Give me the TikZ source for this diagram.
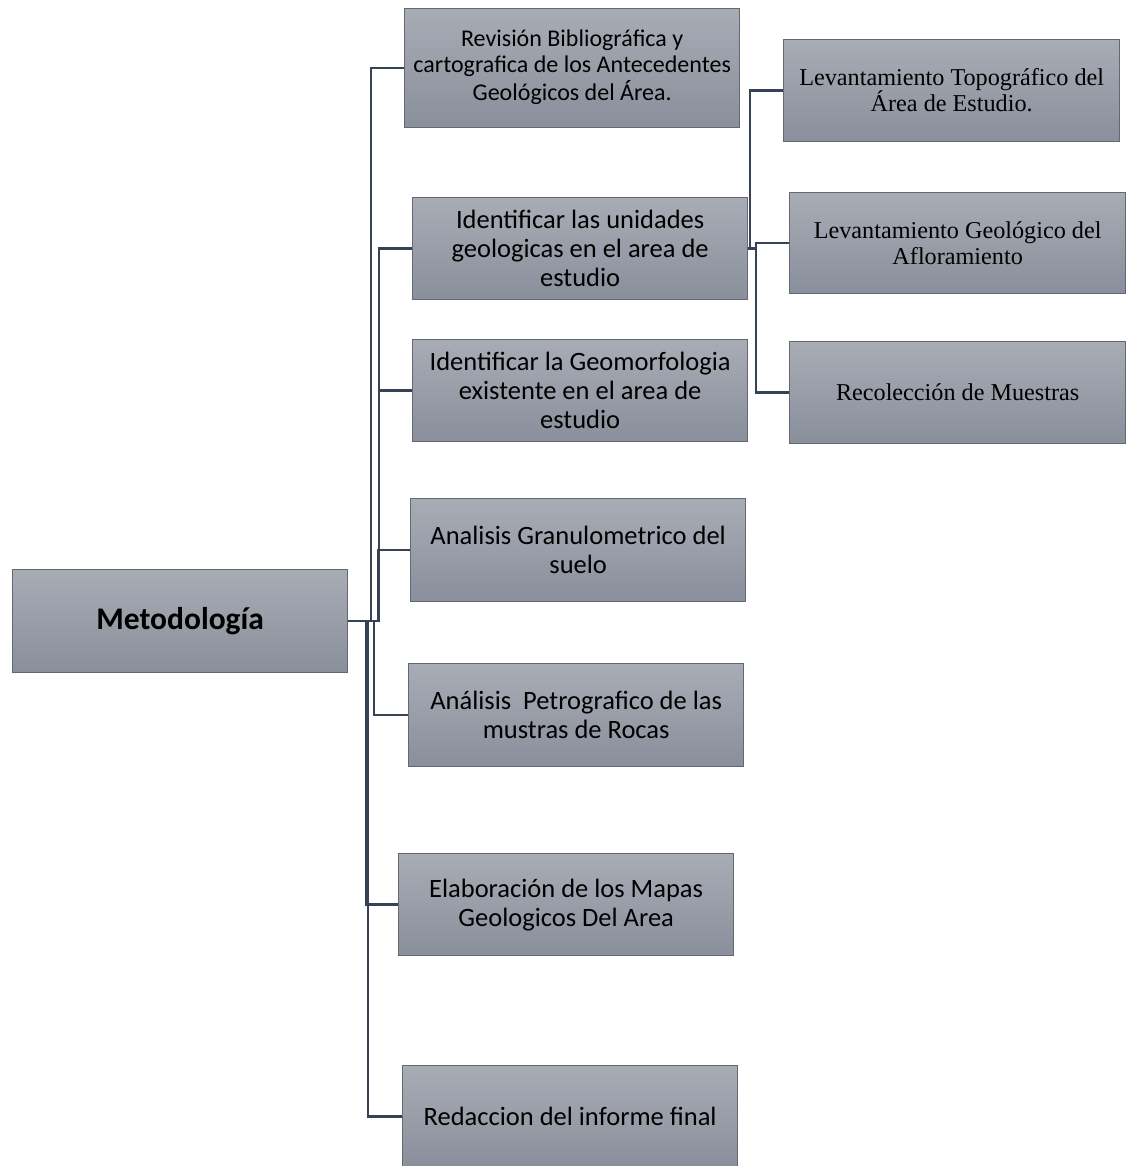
\documentclass[tikz,border=0pt]{standalone}
\usepackage{fontspec}
\setmainfont{Carlito}
\newfontfamily\tnr{Liberation Serif}
\definecolor{boxtop}{RGB}{168,172,181}
\definecolor{boxbot}{RGB}{137,143,155}
\definecolor{boxline}{RGB}{100,105,113}
\definecolor{connc}{RGB}{55,66,86}
\begin{document}
\begin{tikzpicture}[x=1pt,y=-1pt,
  box/.style={draw=boxline, line width=1.3pt, top color=boxtop, bottom color=boxbot,
    anchor=north west, inner sep=0pt, align=center, text=black, minimum width=335pt},
  calb/.style={font=\fontsize{26.5}{29}\selectfont},
  tnrb/.style={font=\tnr\fontsize{24.2}{26}\selectfont},
  conn/.style={draw=connc, line width=2.6pt}]
\useasboundingbox (0,0) rectangle (1128,1166);

\node[box, minimum height=103pt, font=\fontsize{31.5}{36}\selectfont\bfseries] (M) at (12,569) {Metodología};

\node[box, minimum height=119pt, font=\fontsize{24}{26}\selectfont] (B1) at (404,8)
  {\raisebox{8pt}{\begin{tabular}{@{}c@{}}Revisión Bibliográfica y\\cartografica de los Antecedentes\\Geológicos del Área.\end{tabular}}};
\node[box, minimum height=102pt, calb] (B2) at (412,197) {Identificar las unidades\\geologicas en el area de\\estudio};
\node[box, minimum height=102pt, calb] (B3) at (412,339) {Identificar la Geomorfologia\\existente en el area de\\estudio};
\node[box, minimum height=103pt, calb] (B4) at (410,498) {Analisis Granulometrico del\\suelo};
\node[box, minimum height=103pt, calb] (B5) at (408,663) {Análisis\ \ Petrografico de las\\mustras de Rocas};
\node[box, minimum height=102pt, calb] (B6) at (398,853) {Elaboración de los Mapas\\Geologicos Del Area};
\node[box, minimum height=102pt, calb] (B7) at (402,1065) {Redaccion del informe final};

\node[box, minimum width=336pt, minimum height=102pt, tnrb] (S1) at (783,39) {Levantamiento Topográfico del\\Área de Estudio.};
\node[box, minimum width=336pt, minimum height=101pt, tnrb] (S2) at (789,192) {Levantamiento Geológico del\\Afloramiento};
\node[box, minimum width=336pt, minimum height=102pt, tnrb] (S3) at (789,341) {Recolección de Muestras};

\draw[conn] (M.east) -| ([xshift=-33pt]B1.west) -- (B1.west);
\draw[conn] (M.east) -| ([xshift=-33pt]B2.west) -- (B2.west);
\draw[conn] (M.east) -| ([xshift=-33pt]B3.west) -- (B3.west);
\draw[conn] (M.east) -| ([xshift=-32pt]B4.west) -- (B4.west);
\draw[conn] (M.east) -| ([xshift=-34pt]B5.west) -- (B5.west);
\draw[conn] (M.east) -| ([xshift=-32pt]B6.west) -- (B6.west);
\draw[conn] (M.east) -| ([xshift=-34pt]B7.west) -- (B7.west);

\draw[conn] (B2.east) -| ([xshift=-33pt]S1.west) -- (S1.west);
\draw[conn] (B2.east) -| ([xshift=-33pt]S2.west) -- (S2.west);
\draw[conn] (B2.east) -| ([xshift=-33pt]S3.west) -- (S3.west);
\end{tikzpicture}
\end{document}
